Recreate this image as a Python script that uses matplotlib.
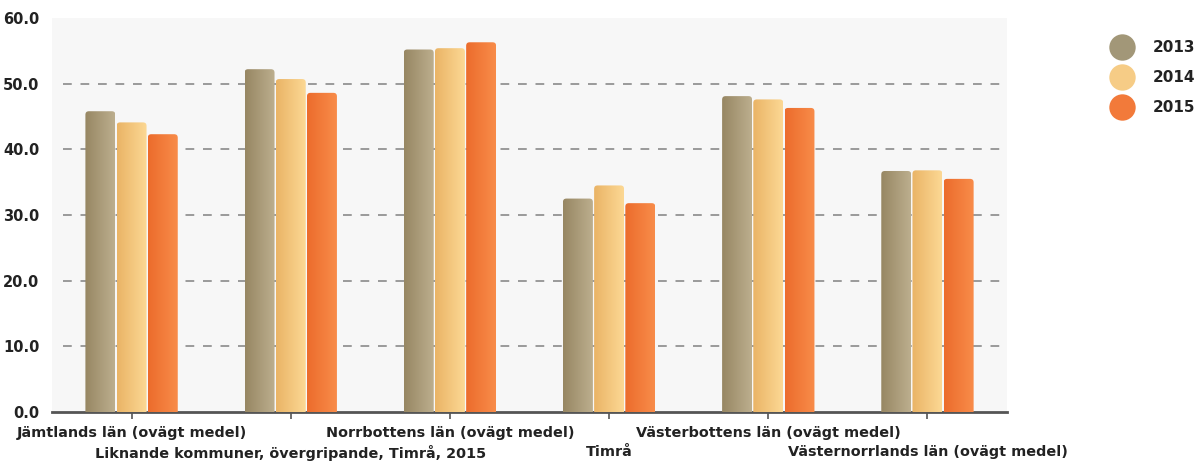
import numpy as np
import matplotlib.pyplot as plt
from matplotlib.colors import LinearSegmentedColormap
from matplotlib.lines import Line2D
from matplotlib.patches import FancyBboxPatch

# kategorier och värden per år
kategorier = ['Jämtlands län (ovägt medel)',
              'Liknande kommuner, övergripande, Timrå, 2015',
              'Norrbottens län (ovägt medel)',
              'Timrå',
              'Västerbottens län (ovägt medel)',
              'Västernorrlands län (ovägt medel)']
ar = ['2013', '2014', '2015']
v2013 = [45.8, 52.2, 55.2, 32.5, 48.1, 36.7]
v2014 = [44.1, 50.7, 55.4, 34.5, 47.6, 36.8]
v2015 = [42.3, 48.6, 56.3, 31.8, 46.3, 35.5]
serier = [v2013, v2014, v2015]

# gradient (vänster -> höger) och legendfärg per år
gradienter = [('#978763', '#bcae8e'), ('#eab466', '#fcd894'), ('#ec6c2c', '#f88c4a')]
legendfarg = ['#a29778', '#f6cc86', '#f27a3a']

fig = plt.figure(figsize=(11.98, 4.61), dpi=100)
ax = fig.add_axes([0.0434, 0.1063, 0.7972, 0.8547])
ax.set_facecolor('#f7f7f7')

x = np.arange(len(kategorier))
bredd = 0.196
grad = np.linspace(0, 1, 64).reshape(1, -1)

ax.set_xlim(-0.5, len(kategorier) - 0.5)
ax.set_ylim(0, 60)

for i, vals in enumerate(serier):
    cmap = LinearSegmentedColormap.from_list('g%d' % i, gradienter[i])
    bars = ax.bar(x + (i - 1) * bredd, vals, width=bredd * 0.96,
                  color='none', edgecolor='none', zorder=3)
    for b in bars:
        # rundade övre hörn: klipp gradienten med en rundad ruta som går under nollan
        klipp = FancyBboxPatch((b.get_x(), -2), b.get_width(), b.get_height() + 2,
                               boxstyle='round,pad=0,rounding_size=0.022',
                               mutation_aspect=24, fc='none', ec='none')
        ax.add_patch(klipp)
        im = ax.imshow(grad, cmap=cmap, aspect='auto', zorder=3,
                       extent=[b.get_x(), b.get_x() + b.get_width(), 0, b.get_height()])
        im.set_clip_path(klipp)

ax.set_xlim(-0.5, len(kategorier) - 0.5)
ax.set_ylim(0, 60)
ax.set_yticks(np.arange(0, 61, 10))
ax.set_yticklabels(['%.1f' % t for t in np.arange(0, 61, 10)])

for t in range(10, 60, 10):
    ax.axhline(t, xmin=0.012, xmax=0.995, color='#9a9a9a', lw=1.4,
               dashes=(4.5, 4.5), zorder=1)

for s in ['top', 'right', 'left']:
    ax.spines[s].set_visible(False)
ax.spines['bottom'].set_color('#555555')
ax.spines['bottom'].set_linewidth(2)

ax.tick_params(axis='y', length=0, pad=9, labelsize=10.5, labelcolor='#222222')
ax.set_xticks(x)
ax.set_xticklabels([])
ax.tick_params(axis='x', length=5, width=1.2, color='#555555')
for t in ax.get_yticklabels():
    t.set_fontweight('bold')

# x-etiketter i två rader
for i, k in enumerate(kategorier):
    y = -0.035 if i % 2 == 0 else -0.083
    ax.text(i, y, k, transform=ax.get_xaxis_transform(), ha='center', va='top',
            fontsize=10.4, color='#222222', fontweight='bold')

handles = [Line2D([0], [0], marker='o', color='none', markerfacecolor=c,
                  markeredgecolor='none', markersize=19) for c in legendfarg]
leg = fig.legend(handles, ar, loc='upper left', bbox_to_anchor=(0.9125, 0.942),
                 frameon=False, fontsize=11, labelspacing=0.97, handletextpad=1.0)
for t in leg.get_texts():
    t.set_fontweight('bold')
    t.set_color('#222222')

fig.savefig('out.png', dpi=100)
